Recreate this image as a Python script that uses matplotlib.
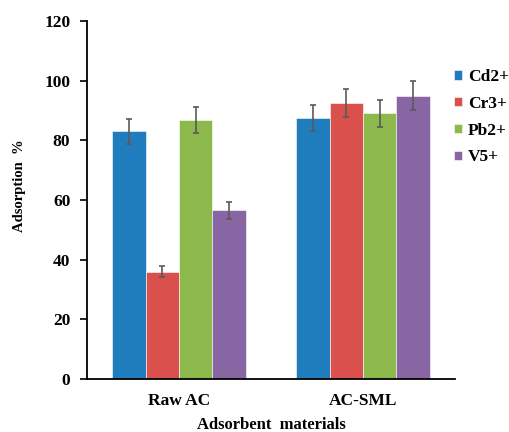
import numpy as np
import matplotlib.pyplot as plt
from matplotlib.patches import Patch

plt.rcParams['font.family'] = ['Liberation Serif', 'DejaVu Serif']
plt.rcParams['font.weight'] = 'bold'

materials = ['Raw AC', 'AC-SML']
ions = ['Cd2+', 'Cr3+', 'Pb2+', 'V5+']
colors = ['#1f7dbd', '#d9504c', '#8db94c', '#8766a3']

cd = [83.0, 87.6]
cr = [36.0, 92.5]
pb = [86.9, 89.1]
v = [56.5, 95.0]
cd_err = [4.1, 4.4]
cr_err = [1.8, 4.7]
pb_err = [4.4, 4.5]
v_err = [2.9, 4.8]

values = [cd, cr, pb, v]
errors = [cd_err, cr_err, pb_err, v_err]

fig = plt.figure(figsize=(5.09, 4.32), dpi=100)
ax = fig.add_axes([0.171, 0.1227, 0.723, 0.8287])

x = np.arange(len(materials))
w = 1 / 5.5
for i in range(4):
    pos = x + (i - 1.5) * w
    ax.bar(pos, values[i], w, color=colors[i], edgecolor='white', linewidth=0.4,
           yerr=errors[i], error_kw=dict(ecolor='#5a5a5a', elinewidth=1.2,
                                         capsize=2.3, capthick=1.2))

ax.set_xlim(-0.5, 1.5)
ax.set_ylim(0, 120)
ax.set_yticks(range(0, 121, 20))
ax.set_xticks(x)
ax.set_xticklabels(materials)
ax.tick_params(axis='x', length=0, pad=10, labelsize=12.5)
ax.tick_params(axis='y', length=5, width=1.2, labelsize=12.5, pad=7)
for s in ['top', 'right']:
    ax.spines[s].set_visible(False)
ax.spines['left'].set_linewidth(1.3)
ax.spines['bottom'].set_linewidth(1.3)

ax.set_ylabel('Adsorption  %', fontsize=10.5, fontweight='bold')
ax.yaxis.set_label_coords(-0.166, 0.54)
ax.set_xlabel('Adsorbent  materials', fontsize=12, fontweight='bold', labelpad=6)

handles = [Patch(facecolor=c, edgecolor='white', linewidth=0.4) for c in colors]
fig.legend(handles, ions, loc='upper left', bbox_to_anchor=(0.892, 0.84),
           frameon=False, handlelength=0.45, handleheight=0.45,
           handletextpad=0.35, labelspacing=0.62, borderpad=0, borderaxespad=0,
           prop={'weight': 'bold', 'size': 12.5})

fig.savefig('out.png', dpi=100)
